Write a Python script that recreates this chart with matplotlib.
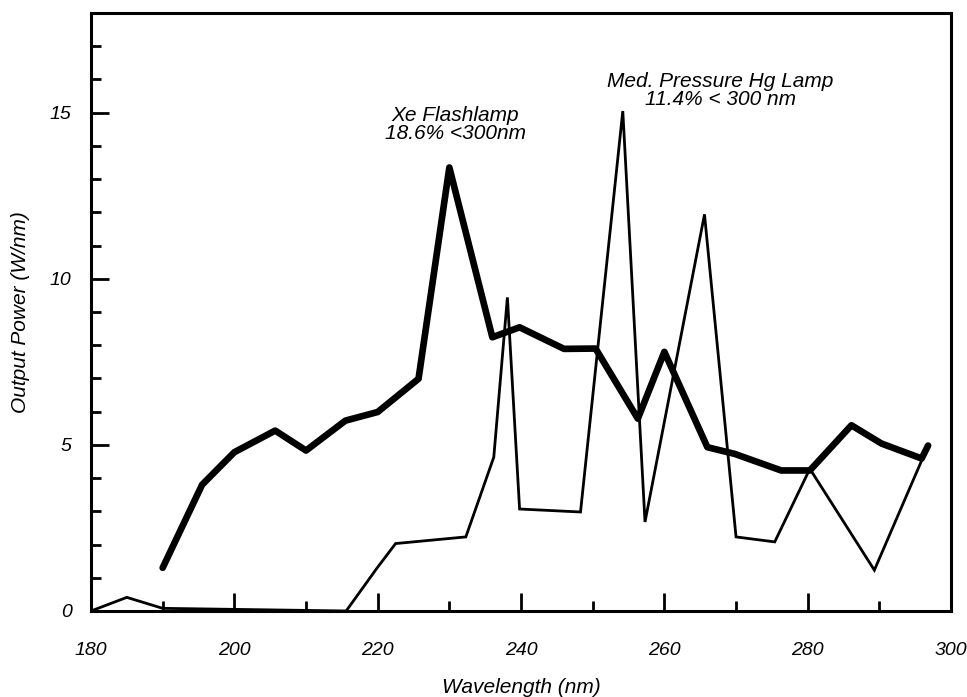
import matplotlib
matplotlib.use("Agg")
from matplotlib import pyplot as plt
from matplotlib.ticker import MultipleLocator

# Xe flashlamp (thick line)
xe_wl = [190, 195.5, 200, 205.7, 210, 215.5, 220, 225.7, 230, 236, 239.8,
         246, 250.4, 256.3, 260, 266, 269.8, 276.3, 280.3, 286.1, 290.3, 295.9, 296.8]
xe_pw = [1.3, 3.8, 4.78, 5.43, 4.83, 5.73, 5.99, 6.99, 13.35, 8.24, 8.54,
         7.89, 7.9, 5.79, 7.8, 4.93, 4.73, 4.23, 4.23, 5.59, 5.04, 4.59, 4.98]

# Medium pressure Hg lamp (thin line)
hg_wl = [180, 185, 190, 215.6, 219.9, 222.5, 232.3, 236.2, 238.1, 239.8,
         248.3, 254.2, 257.3, 265.6, 270, 275.4, 280.3, 289.3, 296.8]
hg_pw = [0, 0.41, 0.08, 0, 1.29, 2.03, 2.23, 4.63, 9.44, 3.07,
         2.98, 15.05, 2.68, 11.94, 2.23, 2.08, 4.28, 1.23, 4.98]

plt.rcParams['font.family'] = ['Liberation Sans', 'DejaVu Sans']
plt.rcParams['font.style'] = 'italic'

fig = plt.figure(figsize=(9.67, 6.97), dpi=100)
ax = fig.add_axes([0.0941, 0.1234, 0.8894, 0.8579])

ax.plot(hg_wl, hg_pw, color='black', lw=2.0, solid_joinstyle='miter')
ax.plot(xe_wl, xe_pw, color='black', lw=4.8, solid_joinstyle='round', solid_capstyle='round')

ax.set_xlim(180, 300)
ax.set_ylim(0, 18)
ax.xaxis.set_major_locator(MultipleLocator(20))
ax.xaxis.set_minor_locator(MultipleLocator(10))
ax.yaxis.set_major_locator(MultipleLocator(5))
ax.yaxis.set_minor_locator(MultipleLocator(1))
ax.tick_params(which='both', direction='in', width=2, top=False, right=False)
ax.tick_params(which='major', length=13)
ax.tick_params(which='minor', length=7)
ax.tick_params(axis='x', which='major', pad=22, labelsize=14)
ax.tick_params(axis='y', which='major', pad=14, labelsize=14)
for sp in ax.spines.values():
    sp.set_linewidth(2.2)

ax.set_xlabel("Wavelength (nm)", fontsize=15, labelpad=14)
ax.set_ylabel("Output Power (W/nm)", fontsize=15, labelpad=14)

ax.text(230.8, 14.64, "Xe Flashlamp\n18.6% <300nm", ha='center', va='center',
        fontsize=15, linespacing=0.95)
ax.text(267.8, 15.66, "Med. Pressure Hg Lamp\n11.4% < 300 nm", ha='center', va='center',
        fontsize=15, linespacing=0.95)

fig.savefig("out.png", dpi=100)
